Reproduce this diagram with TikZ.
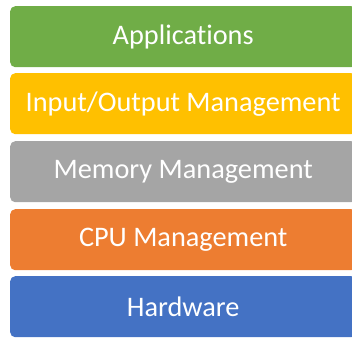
\documentclass[tikz,border=0pt]{standalone}
\usepackage{fontspec}
\setmainfont[Ligatures={NoCommon,NoDiscretionary,NoRare}]{Carlito}
\definecolor{layergreen}{HTML}{70AD47}
\definecolor{layergold}{HTML}{FFC000}
\definecolor{layergray}{HTML}{A5A5A5}
\definecolor{layerorange}{HTML}{ED7D31}
\definecolor{layerblue}{HTML}{4472C4}
\tikzset{
  layer/.style={rectangle, rounded corners=5pt, minimum width=346pt, minimum height=61pt,
    anchor=north west, inner sep=0pt, text=white, font=\fontsize{28.3}{32}\selectfont}
}
\begin{document}
\begin{tikzpicture}[x=1pt,y=-1pt]
  \useasboundingbox (0,0) rectangle (352,337);
  \clip (0,0) rectangle (352,337);
  \node[layer, fill=layergreen]  (apps) at (10,6)   {Applications};
  \node[layer, fill=layergold]   (io)   at (10,73)  {Input/Output Management};
  \node[layer, fill=layergray]   (mem)  at (10,141) {Memory Management};
  \node[layer, fill=layerorange] (cpu)  at (10,209) {CPU Management};
  \node[layer, fill=layerblue]   (hw)   at (10,276) {Hardware};
\end{tikzpicture}
\end{document}
